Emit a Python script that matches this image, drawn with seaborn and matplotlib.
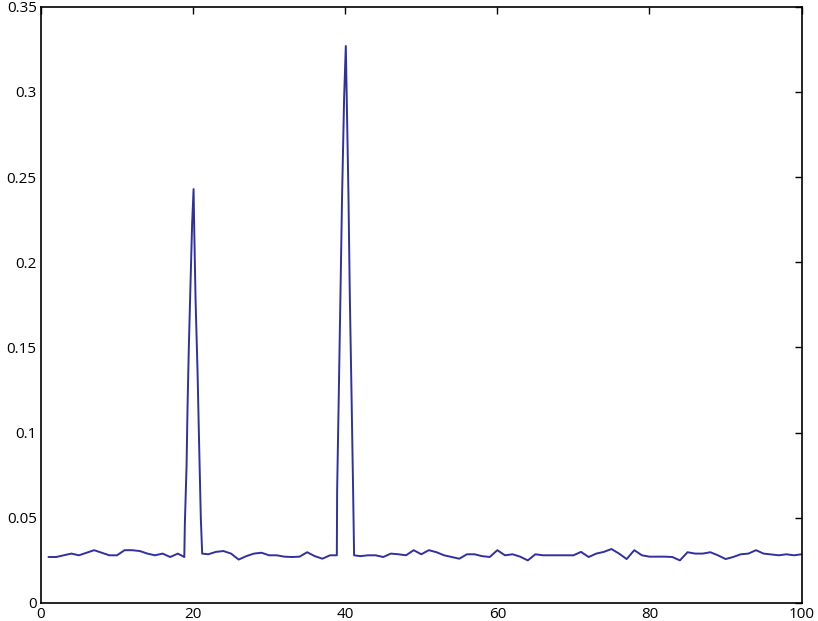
import numpy as np
import pandas as pd
import matplotlib
matplotlib.use("Agg")
import matplotlib.pyplot as plt
import seaborn as sns
from matplotlib.ticker import FuncFormatter

# baseline samples (integer x)
base_x_a = list(range(1, 19))
base_y_a = [0.027, 0.027, 0.028, 0.029, 0.028, 0.0295, 0.031, 0.0295, 0.028,
            0.028, 0.031, 0.031, 0.0305, 0.029, 0.028, 0.029, 0.027, 0.029]

# first peak (around x=20)
peak1_x = [18.85, 18.92, 19.15, 19.28, 19.45, 19.67, 19.88, 20.07,
           20.15, 20.33, 20.59, 20.80, 21.02, 21.2]
peak1_y = [0.027, 0.046, 0.081, 0.116, 0.151, 0.188, 0.223, 0.243,
           0.221, 0.178, 0.136, 0.093, 0.050, 0.029]

base_x_b = list(range(22, 39))
base_y_b = [0.0286, 0.030, 0.0305, 0.029, 0.0255, 0.0275, 0.029, 0.0295, 0.028,
            0.028, 0.0272, 0.027, 0.0272, 0.0298, 0.0275, 0.026, 0.028]

# second peak (around x=40)
peak2_x = [38.9, 38.94, 39.16, 39.38, 39.59, 39.86, 40.08,
           40.2, 40.43, 40.60, 40.83, 41.04, 41.17]
peak2_y = [0.028, 0.066, 0.123, 0.182, 0.239, 0.297, 0.327,
           0.297, 0.239, 0.182, 0.123, 0.066, 0.028]

base_x_c = list(range(42, 101))
base_y_c = [0.0275, 0.028, 0.028, 0.027, 0.029, 0.0286, 0.028, 0.031, 0.0286,
            0.031, 0.0298, 0.028, 0.027, 0.026, 0.0286, 0.0286, 0.0275, 0.027,
            0.031, 0.028, 0.0286, 0.0272, 0.025, 0.0286, 0.028, 0.028, 0.028,
            0.028, 0.028, 0.030, 0.027, 0.029, 0.030, 0.0317, 0.029, 0.0258,
            0.031, 0.028, 0.0272, 0.0272, 0.0272, 0.027, 0.025, 0.0298, 0.029,
            0.029, 0.0298, 0.028, 0.0258, 0.027, 0.0286, 0.029, 0.031, 0.029,
            0.0285, 0.028, 0.0286, 0.028, 0.0286]

xs = base_x_a + peak1_x + base_x_b + peak2_x + base_x_c
ys = base_y_a + peak1_y + base_y_b + peak2_y + base_y_c
df = pd.DataFrame({"x": xs, "y": ys})

sns.set_style("white")
plt.rcParams["font.family"] = ["Open Sans", "DejaVu Sans"]

fig = plt.figure(figsize=(8.18, 6.21), dpi=100)
ax = fig.add_axes([0.050, 0.029, 0.930, 0.960])

sns.lineplot(data=df, x="x", y="y", estimator=None, sort=False,
             color="#3030a0", linewidth=1.4, ax=ax)

ax.set_xlim(0, 100)
ax.set_ylim(0, 0.35)
ax.set_xticks([0, 20, 40, 60, 80, 100])
ax.set_yticks([0, 0.05, 0.1, 0.15, 0.2, 0.25, 0.3, 0.35])
ax.yaxis.set_major_formatter(FuncFormatter(lambda v, _: f"{v:g}"))
ax.xaxis.set_major_formatter(FuncFormatter(lambda v, _: f"{v:g}"))
ax.tick_params(direction="in", length=5, width=1, top=True, right=True,
               labelsize=11, colors="black", pad=3)
ax.set_xlabel("")
ax.set_ylabel("")
for s in ax.spines.values():
    s.set_color("black")
    s.set_linewidth(1.2)

fig.savefig("out.png", dpi=100)
